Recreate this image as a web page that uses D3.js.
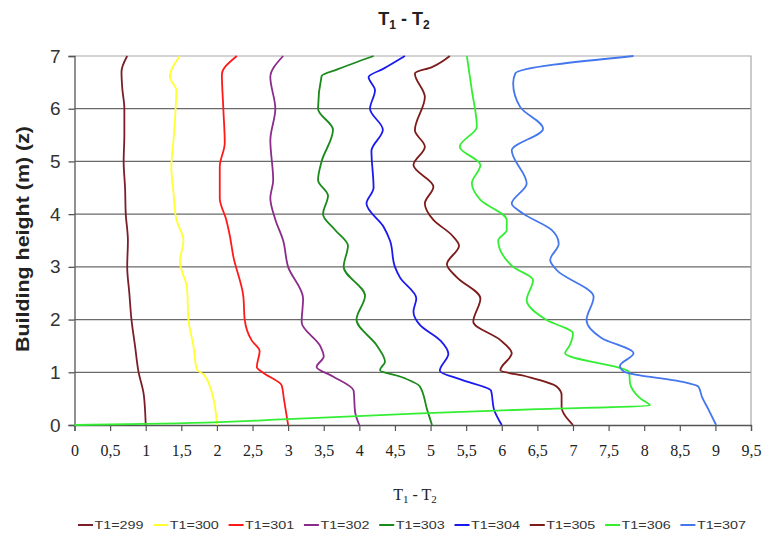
<!DOCTYPE html>
<html>
<head>
<meta charset="utf-8">
<script src="https://cdn.jsdelivr.net/npm/d3@7"></script>
<style>
  html, body { margin: 0; padding: 0; background: #fff; }
  svg { display: block; }
</style>
</head>
<body>
<svg id="chart" width="766" height="539"></svg>
<script>
// ---------- data (each point: [building height z, T1 - T2]) ----------
const seriesNames = ["T1=299", "T1=300", "T1=301", "T1=302", "T1=303", "T1=304", "T1=305", "T1=306", "T1=307"];
const seriesColors = ["#7a1f2a", "#ffff33", "#ff1a1a", "#8a2c8a", "#1a8a1a", "#1a1aee", "#7d1b1b", "#33ee33", "#4477ee"];

const t299 = [[0,1.00],[0.3,0.99],[0.6,0.97],[1.0,0.90],[1.5,0.85],[2.0,0.80],[2.5,0.77],[3.0,0.74],[3.5,0.75],[4.0,0.72],[4.5,0.71],[5.0,0.69],[5.5,0.70],[6.0,0.70],[6.4,0.67],[6.7,0.66],[7.0,0.74]];
const t300 = [[0,2.00],[0.5,1.95],[0.95,1.82],[1.05,1.72],[1.5,1.67],[2.0,1.60],[2.6,1.58],[3.1,1.48],[3.5,1.53],[3.9,1.43],[4.4,1.39],[4.9,1.36],[5.4,1.39],[6.0,1.42],[6.35,1.43],[6.6,1.34],[7.0,1.48]];
const t301 = [[0,3.00],[0.5,2.94],[0.75,2.91],[1.0,2.64],[1.1,2.56],[1.4,2.60],[1.6,2.49],[2.0,2.39],[2.45,2.37],[3.2,2.23],[3.6,2.18],[3.9,2.13],[4.3,2.04],[4.9,2.04],[5.35,2.11],[6.0,2.09],[6.65,2.07],[7.0,2.28]];
const t302 = [[0,4.00],[0.25,3.94],[0.65,3.92],[0.92,3.63],[1.1,3.40],[1.3,3.50],[1.5,3.45],[1.95,3.19],[2.4,3.21],[3.0,3.00],[3.5,2.93],[3.9,2.82],[4.3,2.75],[4.65,2.79],[5.4,2.75],[6.0,2.82],[6.6,2.75],[7.0,2.93]];
const t303 = [[0,5.02],[0.3,4.95],[0.73,4.85],[0.92,4.57],[1.04,4.29],[1.2,4.36],[1.5,4.25],[2.0,3.96],[2.45,4.08],[3.0,3.78],[3.4,3.84],[3.7,3.66],[4.0,3.49],[4.35,3.56],[4.65,3.42],[5.0,3.47],[5.6,3.63],[6.0,3.42],[6.62,3.47],[6.75,3.70],[7.0,4.20]];
const t304 = [[0,6.00],[0.3,5.89],[0.65,5.85],[0.85,5.45],[1.03,5.13],[1.35,5.25],[1.6,5.14],[1.9,4.85],[2.15,4.76],[2.4,4.80],[2.8,4.57],[3.0,4.50],[3.5,4.43],[3.76,4.34],[4.2,4.10],[4.5,4.20],[5.2,4.17],[5.6,4.33],[6.0,4.15],[6.35,4.22],[6.6,4.13],[6.76,4.34],[7.0,4.64]];
const t305 = [[0,7.00],[0.35,6.84],[0.57,6.84],[0.73,6.77],[0.92,6.35],[1.04,5.98],[1.36,6.14],[1.61,5.98],[1.96,5.60],[2.4,5.70],[2.8,5.37],[3.05,5.23],[3.4,5.40],[3.6,5.30],[3.89,5.04],[4.2,4.92],[4.52,5.04],[4.93,4.76],[5.28,4.92],[5.59,4.78],[6.22,4.92],[6.67,4.78],[6.79,5.02],[7.0,5.27]];
const t306 = [[0,0.00],[0.02,1.00],[0.11,3.00],[0.22,4.85],[0.3,6.50],[0.37,8.08],[0.5,7.95],[0.8,7.80],[1.0,7.79],[1.36,6.89],[1.5,6.95],[1.74,7.00],[1.99,6.63],[2.37,6.35],[2.75,6.44],[3.0,6.16],[3.5,5.95],[3.7,6.07],[3.89,6.07],[4.27,5.70],[4.58,5.58],[4.93,5.70],[5.28,5.41],[5.66,5.65],[6.35,5.58],[7.0,5.51]];
const t307 = [[0,9.01],[0.3,8.90],[0.54,8.81],[0.73,8.76],[0.8,8.60],[1.01,7.72],[1.12,7.66],[1.36,7.85],[1.65,7.40],[1.99,7.19],[2.43,7.29],[2.94,6.77],[3.13,6.68],[3.44,6.80],[3.7,6.70],[4.01,6.30],[4.2,6.14],[4.58,6.35],[5.21,6.14],[5.62,6.58],[6.03,6.26],[6.48,6.16],[6.67,6.19],[7.0,7.85]];

const allSeries = [t299, t300, t301, t302, t303, t304, t305, t306, t307];

const xTicks = d3.range(0, 9.51, 0.5);
const yTicks = [0, 1, 2, 3, 4, 5, 6, 7];

// ---------- layout ----------
const svg = d3.select("#chart");
const pLeft = 74.5, pRight = 751, pTop = 56, pBottom = 425;
const sans = "'Liberation Sans', Arial, sans-serif";
const serif = "'Liberation Serif', 'Times New Roman', serif";

const x = d3.scaleLinear().domain([0, 9.5]).range([pLeft, pRight]);
const y = d3.scaleLinear().domain([0, 7]).range([pBottom, pTop]);

// horizontal gridlines
svg.append("g").selectAll("line")
  .data(yTicks.filter(d => d > 0 && d < 7))
  .join("line")
  .attr("x1", pLeft).attr("x2", pRight)
  .attr("y1", d => y(d)).attr("y2", d => y(d))
  .attr("stroke", "#6a6a6a").attr("stroke-width", 1.3);

// plot border (top and right)
svg.append("path")
  .attr("d", `M${pLeft},${pTop}H${pRight}V${pBottom}`)
  .attr("fill", "none").attr("stroke", "#a8a8a8").attr("stroke-width", 1.2);

// y axis
const yAxis = d3.axisLeft(y).tickValues(yTicks).tickSize(6).tickPadding(8).tickFormat(d3.format("d"));
const gy = svg.append("g").attr("transform", `translate(${pLeft},0)`).call(yAxis);
gy.select(".domain").attr("stroke", "#555").attr("stroke-width", 1.3);
gy.selectAll(".tick line").attr("stroke", "#555").attr("stroke-width", 1.3);
gy.selectAll(".tick text").attr("font-family", sans)
  .attr("font-size", 19).attr("fill", "#333");

// x axis
const xAxis = d3.axisBottom(x).tickValues(xTicks).tickSize(6).tickPadding(14)
  .tickFormat(d => String(d).replace(".", ","));
const gx = svg.append("g").attr("transform", `translate(0,${pBottom})`).call(xAxis);
gx.select(".domain").attr("stroke", "#555").attr("stroke-width", 1.3);
gx.selectAll(".tick line").attr("stroke", "#555").attr("stroke-width", 1.2);
gx.selectAll(".tick text").attr("font-family", serif)
  .attr("font-size", 16).attr("fill", "#222");

// lines
const line = d3.line()
  .x(d => x(d[1]))
  .y(d => y(d[0]))
  .curve(d3.curveMonotoneY);

svg.append("g").selectAll("path")
  .data(allSeries)
  .join("path")
  .attr("d", d => line(d))
  .attr("fill", "none")
  .attr("stroke", (d, i) => seriesColors[i])
  .attr("stroke-width", 1.8)
  .attr("stroke-linejoin", "round");

// title
const title = svg.append("text")
  .attr("x", 404).attr("y", 25)
  .attr("text-anchor", "middle")
  .attr("font-family", sans)
  .attr("font-weight", "bold").attr("font-size", 18).attr("fill", "#222");
title.append("tspan").text("T");
title.append("tspan").text("1").attr("font-size", 12).attr("dy", 4);
title.append("tspan").text(" - T").attr("dy", -4);
title.append("tspan").text("2").attr("font-size", 12).attr("dy", 4);

// y axis title
svg.append("text")
  .attr("transform", `translate(29,${239}) rotate(-90)`)
  .attr("text-anchor", "middle")
  .attr("font-family", sans)
  .attr("font-weight", "bold").attr("font-size", 19).attr("fill", "#222")
  .attr("textLength", 226).attr("lengthAdjust", "spacingAndGlyphs")
  .text("Building height (m) (z)");

// x axis title
const xt = svg.append("text")
  .attr("x", 415).attr("y", 500)
  .attr("text-anchor", "middle")
  .attr("font-family", serif)
  .attr("font-size", 16).attr("fill", "#222");
xt.append("tspan").text("T");
xt.append("tspan").text("1").attr("font-size", 11).attr("dy", 3);
xt.append("tspan").text(" - T").attr("dy", -3);
xt.append("tspan").text("2").attr("font-size", 11).attr("dy", 3);

// legend
const legend = svg.append("g").attr("transform", "translate(78,525)");
const items = legend.selectAll("g").data(seriesNames).join("g")
  .attr("transform", (d, i) => `translate(${i * 75.3},0)`);
items.append("line")
  .attr("x1", 0).attr("x2", 15).attr("y1", 0).attr("y2", 0)
  .attr("stroke", (d, i) => seriesColors[i]).attr("stroke-width", 2);
items.append("text")
  .attr("x", 16.5).attr("y", 4)
  .attr("font-family", sans)
  .attr("font-size", 11.5).attr("fill", "#333")
  .attr("textLength", 49).attr("lengthAdjust", "spacingAndGlyphs")
  .text(d => d);
</script>
</body>
</html>
